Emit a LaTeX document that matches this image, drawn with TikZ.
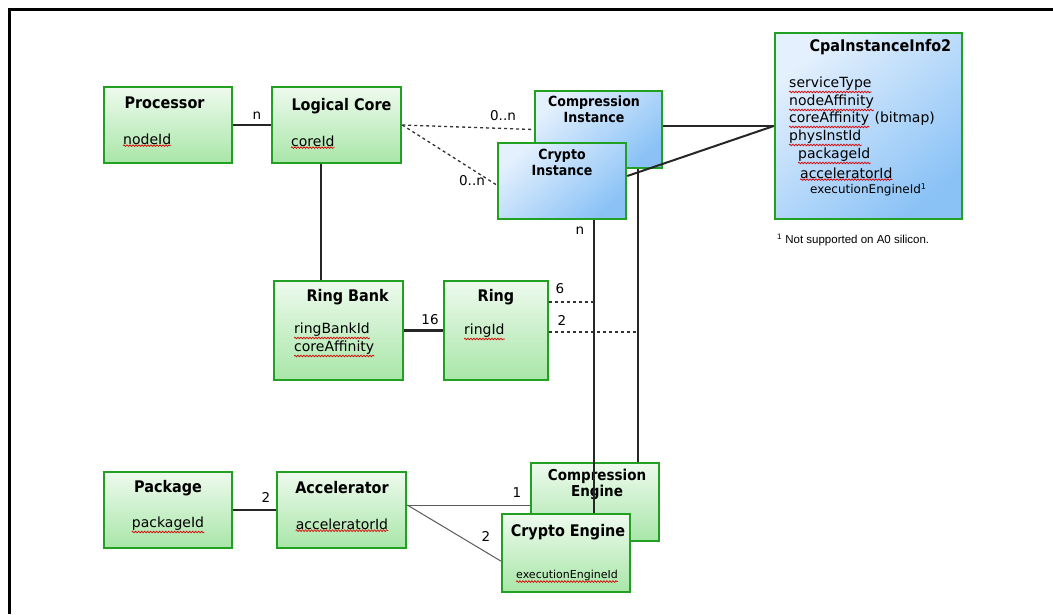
\documentclass[tikz,border=0pt]{standalone}
\usepackage{fontspec}
\setmainfont{DejaVu Sans}
\newfontfamily\condfont{DejaVu Sans}[FakeStretch=0.9]
\newfontfamily\notefont{Liberation Sans}
\usetikzlibrary{calc, decorations.pathmorphing}

\definecolor{boxgreen}{RGB}{34,160,34}
\definecolor{greentop}{RGB}{238,250,238}
\definecolor{greenbot}{RGB}{168,230,168}
\definecolor{bluetop}{RGB}{228,240,253}
\definecolor{bluebot}{RGB}{138,194,246}
\definecolor{linegray}{RGB}{90,90,90}

\tikzset{
  greenbox/.style={draw=boxgreen, line width=2.5pt, top color=greentop, bottom color=greenbot,
    minimum width=128pt, minimum height=76pt, inner sep=0pt},
  bluebox/.style={draw=boxgreen, line width=2.5pt, top color=bluetop, bottom color=bluebot,
    shading angle=40, minimum width=128pt, minimum height=76pt, inner sep=0pt},
  title/.style={font=\condfont\bfseries\fontsize{16}{16}\selectfont, align=center},
  subtitle/.style={font=\condfont\bfseries\fontsize{14}{16}\selectfont, align=center},
  field/.style={font=\fontsize{14}{16}\selectfont, anchor=west, inner sep=0pt},
  small/.style={font=\fontsize{12}{14}\selectfont, anchor=west, inner sep=0pt},
  mult/.style={font=\fontsize{13.5}{14}\selectfont},
  assoc/.style={line width=2pt, draw=black!85},
  thin/.style={line width=1pt, draw=linegray},
  weak/.style={line width=1.3pt, draw=black!80, dashed},
  spell/.style={draw=red!85!black, line width=0.7pt, decorate,
    decoration={snake, amplitude=0.8pt, segment length=3pt}}
}

\begin{document}
\begin{tikzpicture}[x=1pt, y=-1pt]
\useasboundingbox (0,0) rectangle (1053,614);
\draw[line width=3pt] (1053,9) -- (9,9) -- (9,614);

% boxes
\node[greenbox] (proc) at (168,125) {};
\node[greenbox, minimum width=129pt] (lcore) at (336.5,125) {};
\node[bluebox, minimum width=127pt, minimum height=77pt] (cinst) at (598.5,129.5) {};
\node[bluebox] (crinst) at (562,181) {};
\node[bluebox, minimum width=187pt, minimum height=186pt] (cpa) at (868.5,126) {};
\node[greenbox, minimum width=129pt, minimum height=99pt] (rbank) at (338.5,330.5) {};
\node[greenbox, minimum width=104pt, minimum height=99pt] (ring) at (496,330.5) {};
\node[greenbox] (pkg) at (168,510) {};
\node[greenbox, minimum width=129pt] (accel) at (341.5,510) {};
\node[greenbox, minimum height=78pt] (compeng) at (595,502) {};
\node[greenbox, minimum height=78pt] (ceng) at (566,553) {};

% texts
\node[title, anchor=west] (procT) at (121,103) {Processor};
\node[field] (procF) at (123,139) {nodeId};
\node[title, anchor=west] (lcoreT) at (288,106) {Logical Core};
\node[field] (lcoreF) at (291,141) {coreId};
\node[subtitle] (cinstT) at (594,109) {Compression\\Instance};
\node[subtitle] (crinstT) at (562,162) {Crypto\\Instance};

\node[title, anchor=west] (cpaT) at (806,47) {CpaInstanceInfo2};
\node[field] (cpaF1) at (789,84) {serviceType};
\node[field] (cpaF2) at (789,102) {nodeAffinity};
\node[field] (cpaF3) at (789,119) {coreAffinity};
\node[field] (cpaF3b) at ($(cpaF3.east)+(5,0)$) {(bitmap)};
\node[field] (cpaF4) at (789,137) {physInstId};
\node[field] (cpaF5) at (798,155) {packageId};
\node[field] (cpaF6) at (800,173) {acceleratorId};
\node[small] (cpaF7) at (810,190) {executionEngineId\textsuperscript{1}};
\node[font=\notefont\fontsize{11.5}{13}\selectfont, anchor=west, inner sep=0pt] (note)
  at (777,240) {\textsuperscript{1} Not supported on A0 silicon.};

\node[title, anchor=west] (rbankT) at (303,297) {Ring Bank};
\node[field] (rbankF1) at (294,330) {ringBankId};
\node[field] (rbankF2) at (294,348) {coreAffinity};
\node[title] (ringT) at (496,297) {Ring};
\node[field] (ringF) at (464,331) {ringId};

\node[title] (pkgT) at (168,488) {Package};
\node[field, anchor=center] (pkgF) at (168,524) {packageId};
\node[title] (accelT) at (342,488) {Accelerator};
\node[field, anchor=center] (accelF) at (342,524) {acceleratorId};
\node[subtitle, font=\condfont\bfseries\fontsize{15}{16}\selectfont] (compengT) at (597,484) {Compression\\Engine};
\node[title] (cengT) at (568,532) {Crypto Engine};
\node[small, anchor=center, font=\fontsize{11}{13}\selectfont] (cengF) at (567,575) {executionEngineId};

% spell-check marks
\foreach \w in {procF, lcoreF, cpaF1, cpaF2, cpaF3, cpaF4, cpaF5, cpaF6, rbankF1, rbankF2,
  ringF, pkgF, accelF, cengF}
  \draw[spell] ([yshift=-1pt]\w.south west) -- ([yshift=-1pt]\w.south east);

% connector columns
\coordinate (corebus) at (321,0);
\coordinate (cybus) at (594,0);
\coordinate (dcbus) at (638,0);

% connectors
\draw[assoc, line width=1.5pt] (proc) -- (lcore);
\draw[weak] (lcore.east) -- (cinst.west);
\draw[weak] (lcore.east) -- ([yshift=-4pt]crinst.west);
\draw[assoc] (lcore.south -| corebus) -- (rbank.north -| corebus);
\draw[assoc] (cinst.east |- cpa.west) -- (cpa.west);
\draw[assoc] ([yshift=5pt]crinst.east) -- (cpa.west);
\draw[assoc] (crinst.south -| cybus) -- (ceng.north -| cybus);
\draw[assoc] (cinst.south -| dcbus) -- (compeng.north -| dcbus);
\draw[assoc, line width=2.5pt] (rbank) -- (ring);
\draw[weak] ([yshift=28.5pt]ring.east) -- ([yshift=28.5pt]ring.east -| cybus);
\draw[weak] ([yshift=-1.5pt]ring.east) -- ([yshift=-1.5pt]ring.east -| dcbus);
\draw[assoc, line width=2.5pt] (pkg) -- (accel);
\draw[thin] ([yshift=5pt]accel.east) -- ([yshift=5pt]accel.east -| compeng.west);
\draw[thin] ([yshift=5pt]accel.east) -- ([yshift=-8pt]ceng.west);

% multiplicities
\node[mult] (m1) at (257,116) {n};
\node[mult] (m2) at (503,116) {0..n};
\node[mult] (m3) at (472,181) {0..n};
\node[mult] (m4) at (580,231) {n};
\node[mult] (m5) at (430,320) {16};
\node[mult] (m6) at (560,289) {6};
\node[mult] (m7) at (562,320) {2};
\node[mult] (m8) at (266,497) {2};
\node[mult] (m9) at (517,493) {1};
\node[mult] (m10) at (486,536) {2};
\end{tikzpicture}
\end{document}
